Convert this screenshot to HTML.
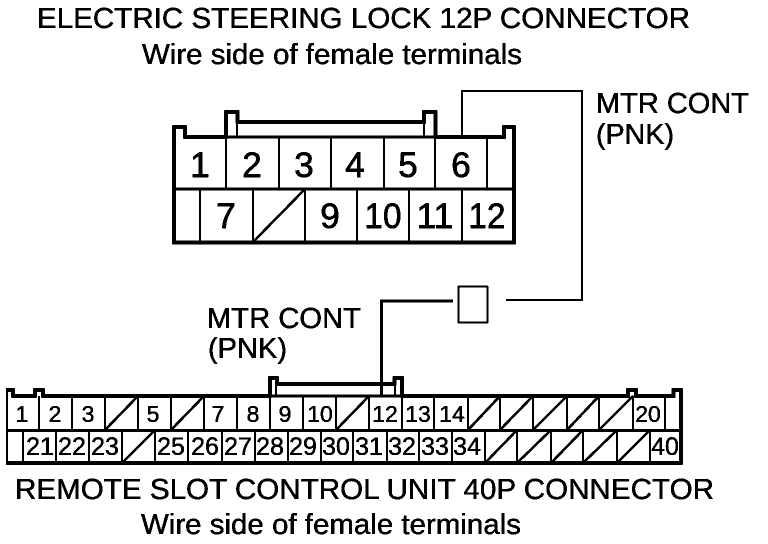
<!DOCTYPE html>
<html><head><meta charset="utf-8"><style>
html,body{margin:0;padding:0;background:#fff}
svg{display:block}
text{font-family:"Liberation Sans",Arial,sans-serif;fill:#000;stroke:#000;stroke-width:.35px}
.t{font-size:28.500px}
.a{font-size:35px;text-anchor:middle;stroke-width:.6px}
.b{font-size:23px;text-anchor:middle}
.c{font-size:25px;text-anchor:middle}
</style></head><body>
<svg width="768" height="544" viewBox="0 0 768 544" xmlns="http://www.w3.org/2000/svg">
<defs><filter id="k" x="0" y="0" width="100%" height="100%" color-interpolation-filters="sRGB"><feComponentTransfer><feFuncA type="discrete" tableValues="0 1 1"/></feComponentTransfer></filter></defs>
<rect width="768" height="544" fill="#fff"/>
<g filter="url(#k)">
<text class="t" x="37" y="28" textLength="653" lengthAdjust="spacingAndGlyphs">ELECTRIC STEERING LOCK 12P CONNECTOR</text>
<text class="t" x="142" y="64" textLength="380" lengthAdjust="spacingAndGlyphs">Wire side of female terminals</text>
<text class="t" x="596" y="113" textLength="153" lengthAdjust="spacingAndGlyphs">MTR CONT</text>
<text class="t" x="596" y="144" textLength="78" lengthAdjust="spacingAndGlyphs">(PNK)</text>
<text class="t" x="207" y="328" textLength="154" lengthAdjust="spacingAndGlyphs">MTR CONT</text>
<text class="t" x="208" y="358" textLength="79" lengthAdjust="spacingAndGlyphs">(PNK)</text>
<text class="t" x="15" y="499" textLength="699" lengthAdjust="spacingAndGlyphs">REMOTE SLOT CONTROL UNIT 40P CONNECTOR</text>
<text class="t" x="141" y="534" textLength="380" lengthAdjust="spacingAndGlyphs">Wire side of female terminals</text>

<g fill="none" stroke="#000" stroke-width="2">
<path d="M462 137V91H582V300H506"/>
<path d="M453 301H381.500V396" stroke-width="3"/>
<rect x="458.500" y="286.500" width="29" height="36" stroke-width="1.500"/>

<!-- top connector -->
<path stroke-width="3.500" d="M174 242.500H514V127H504V137H435.500V112H424V122H237.500V112H226V137H185V127H174Z"/>
<path stroke-width="3" d="M226 137H436"/>
<path stroke-width="2" d="M237 122V137M424 122V137"/>
<path stroke-width="3" d="M174 189H514"/>
<path d="M226 137V189M279 137V189M331 137V189M384 137V189M435 137V189M487 137V189"/>
<path d="M200 189V242M253 189V242M305 189V242M357 189V242M409 189V242M462 189V242"/>
<path d="M253 242L305 189" stroke-width="2.500"/>

<!-- bottom connector -->
<path stroke-width="3.500" d="M6 463H681V390H673.500V396H636V390H628V396H402V378H394.500V384H277V378H270V396H43V390H35V396H13V390H6Z"/>
<path stroke-width="3" d="M270 396H402"/>
<path stroke-width="1.500" d="M276 384V396M395 384V396"/>
<path stroke-width="3" d="M6 430.500H681"/>
<path d="M39 396V430M72 396V430M105 396V430M138 396V430M171 396V430M204 396V430M237 396V430M270 396V430M303 396V430M336 396V430M369 396V430M402 396V430M434 396V430M468 396V430M500 396V430M533 396V430M567 396V430M599 396V430M633 396V430M665 396V430"/>
<path d="M23 430V463M56 430V463M89 430V463M122 430V463M155 430V463M188 430V463M222 430V463M255 430V463M288 430V463M321 430V463M353 430V463M387 430V463M419 430V463M452 430V463M485 430V463M517 430V463M551 430V463M583 430V463M617 430V463M650 430V463"/>
<path d="M105 430L138 396M171 430L204 396M336 430L369 396M468 430L500 396M500 430L533 396M533 430L567 396M567 430L599 396M599 430L633 396M122 463L155 430M485 463L517 430M517 463L551 430M551 463L583 430M583 463L617 430M617 463L650 430" stroke-width="2.500"/>
</g>

<text class="a" x="200" y="177">1</text><text class="a" x="252" y="177">2</text><text class="a" x="304" y="177">3</text><text class="a" x="355" y="177">4</text><text class="a" x="408" y="177">5</text><text class="a" x="461" y="177">6</text>
<text class="a" x="226" y="228">7</text><text class="a" x="330" y="228">9</text><text class="a" x="383" y="228" textLength="37" lengthAdjust="spacingAndGlyphs">10</text><text class="a" x="435" y="228" textLength="37" lengthAdjust="spacingAndGlyphs">11</text><text class="a" x="487" y="228" textLength="37" lengthAdjust="spacingAndGlyphs">12</text>

<text class="b" x="22" y="422">1</text><text class="b" x="55" y="422">2</text><text class="b" x="88" y="422">3</text><text class="b" x="153" y="422">5</text><text class="b" x="218" y="422">7</text><text class="b" x="253" y="422">8</text><text class="b" x="285" y="422">9</text><text class="b" x="320" y="422">10</text><text class="b" x="385" y="422">12</text><text class="b" x="418" y="422">13</text><text class="b" x="452" y="422">14</text><text class="b" x="648" y="422">20</text>

<text class="c" x="40" y="455">21</text><text class="c" x="72" y="455">22</text><text class="c" x="105" y="455">23</text><text class="c" x="171" y="455">25</text><text class="c" x="205" y="455">26</text><text class="c" x="238" y="455">27</text><text class="c" x="270" y="455">28</text><text class="c" x="303" y="455">29</text><text class="c" x="336" y="455">30</text><text class="c" x="369" y="455">31</text><text class="c" x="402" y="455">32</text><text class="c" x="435" y="455">33</text><text class="c" x="467" y="455">34</text><text class="c" x="665" y="455">40</text>
</g>
</svg>
</body></html>
